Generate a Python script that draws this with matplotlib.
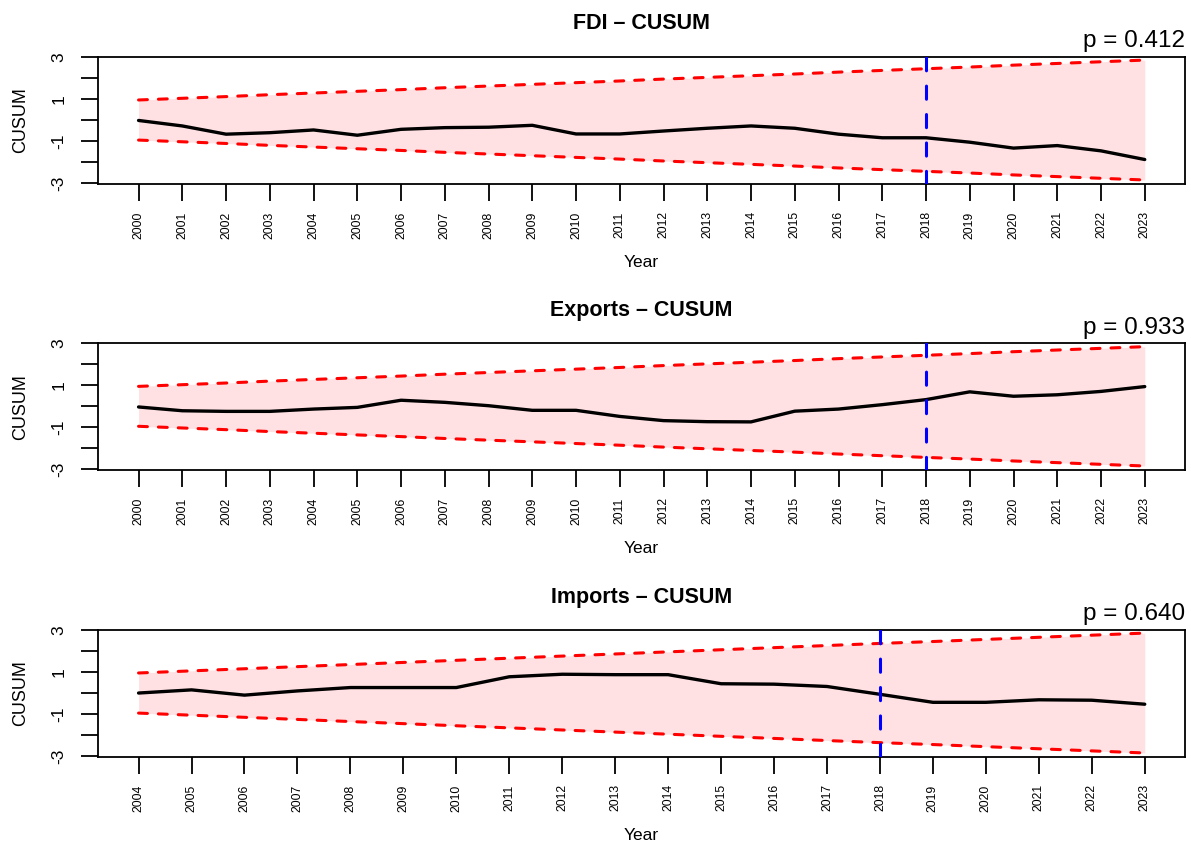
import matplotlib
matplotlib.use("Agg")
import matplotlib.pyplot as plt

plt.rcParams['font.family'] = ['Liberation Sans', 'DejaVu Sans']

# ---------------- data ----------------
years_fdi = list(range(2000, 2024))
cusum_fdi = [-0.02, -0.28, -0.67, -0.60, -0.47, -0.72, -0.44, -0.36, -0.34, -0.25,
             -0.66, -0.66, -0.52, -0.39, -0.28, -0.39, -0.67, -0.84, -0.84, -1.05,
             -1.33, -1.21, -1.46, -1.87]

years_exp = list(range(2000, 2024))
cusum_exp = [-0.03, -0.21, -0.24, -0.24, -0.13, -0.05, 0.29, 0.19, 0.03, -0.19,
             -0.19, -0.48, -0.68, -0.73, -0.74, -0.23, -0.13, 0.08, 0.32, 0.69,
             0.48, 0.55, 0.71, 0.94]

years_imp = list(range(2004, 2024))
cusum_imp = [0.00, 0.15, -0.10, 0.10, 0.26, 0.26, 0.26, 0.77, 0.89, 0.87,
             0.87, 0.44, 0.42, 0.31, -0.06, -0.44, -0.44, -0.32, -0.34, -0.53]

upper_24 = [0.95, 1.03, 1.11, 1.20, 1.28, 1.36, 1.44, 1.53, 1.61, 1.69, 1.77, 1.85,
            1.94, 2.02, 2.10, 2.18, 2.27, 2.35, 2.43, 2.51, 2.60, 2.68, 2.76, 2.84]
lower_24 = [-0.95, -1.03, -1.11, -1.20, -1.28, -1.36, -1.44, -1.53, -1.61, -1.69, -1.77, -1.85,
            -1.94, -2.02, -2.10, -2.18, -2.27, -2.35, -2.43, -2.51, -2.60, -2.68, -2.76, -2.84]
upper_20 = [0.95, 1.05, 1.15, 1.25, 1.35, 1.45, 1.55, 1.65, 1.75, 1.85,
            1.95, 2.05, 2.15, 2.25, 2.35, 2.44, 2.54, 2.64, 2.74, 2.84]
lower_20 = [-0.95, -1.05, -1.15, -1.25, -1.35, -1.45, -1.55, -1.65, -1.75, -1.85,
            -1.95, -2.05, -2.15, -2.25, -2.35, -2.44, -2.54, -2.64, -2.74, -2.84]

titles = ["FDI \u2013 CUSUM", "Exports \u2013 CUSUM", "Imports \u2013 CUSUM"]
pvalues = ["p = 0.412", "p = 0.933", "p = 0.640"]
break_year = 2018
y_ticks = [-3, -2, -1, 0, 1, 2, 3]
y_ticklabels = ["-3", "", "-1", "", "1", "", "3"]

panels = [
    (years_fdi, cusum_fdi, upper_24, lower_24),
    (years_exp, cusum_exp, upper_24, lower_24),
    (years_imp, cusum_imp, upper_20, lower_20),
]

# ---------------- figure ----------------
W, H = 1191, 843
fig = plt.figure(figsize=(W / 100, H / 100), dpi=100)

left_px, right_px = 98.3, 1185
box_px = [(56.7, 184), (343.3, 470), (629.7, 757)]

for k, ((yrs, cs, up, lo), (top, bot)) in enumerate(zip(panels, box_px)):
    ax = fig.add_axes([left_px / W, 1 - bot / H, (right_px - left_px) / W, (bot - top) / H])
    span = yrs[-1] - yrs[0]
    ax.set_xlim(yrs[0] - 0.04 * span, yrs[-1] + 0.04 * span)
    ax.set_ylim(-3.03, 3.0)

    ax.fill_between(yrs, lo, up, color="#FFE1E3", lw=0, zorder=1)
    ax.plot(yrs, up, color="#FF0000", lw=2.2, dashes=(2.9, 3.6),
            dash_capstyle="round", zorder=3)
    ax.plot(yrs, lo, color="#FF0000", lw=2.2, dashes=(2.9, 3.6),
            dash_capstyle="round", zorder=3)
    ax.plot(yrs, cs, color="black", lw=2.4, solid_capstyle="round",
            solid_joinstyle="round", zorder=4)
    ax.axvline(break_year, color="#0000FF", lw=2.2, dashes=(4.3, 5.0),
               dash_capstyle="round", zorder=5)

    for s in ax.spines.values():
        s.set_linewidth(1.3)
        s.set_color("black")

    ax.set_xticks(yrs)
    ax.set_xticklabels([str(y) for y in yrs], rotation=90, fontsize=8.8)
    ax.tick_params(axis="x", direction="out", length=12, width=1.3, pad=7.7)

    ax.set_yticks(y_ticks)
    ax.set_yticklabels(y_ticklabels, fontsize=12.5)
    for lab in ax.get_yticklabels():
        lab.set_rotation(90)
        lab.set_va("center")
        lab.set_ha("right")
    ax.tick_params(axis="y", direction="out", length=12, width=1.3, pad=11)

    h = bot - top
    w = right_px - left_px
    ax.text((21 - left_px) / w, 0.5, "CUSUM", rotation=90, ha="center", va="center",
            fontsize=13, transform=ax.transAxes)
    ax.text(0.5, -83 / h, "Year", ha="center", va="baseline", fontsize=12.5,
            transform=ax.transAxes)
    ax.text(0.5, 1 + 32.7 / h, titles[k], ha="center", va="center", fontsize=15.5,
            fontweight="bold", transform=ax.transAxes)
    ax.text(1.0, 1 + 9.4 / h, pvalues[k], ha="right", va="baseline", fontsize=17.5,
            transform=ax.transAxes)

fig.savefig("out.png", dpi=100)
